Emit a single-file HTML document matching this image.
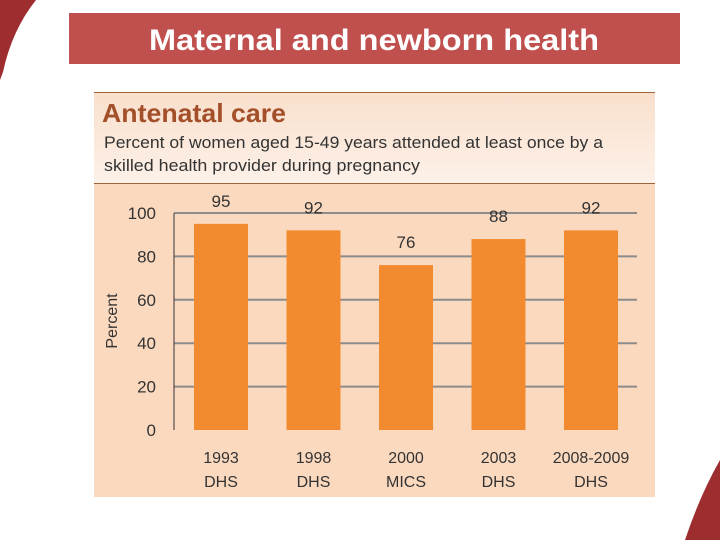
<!DOCTYPE html>
<html><head><meta charset="utf-8"><style>
body{margin:0;width:720px;height:540px;overflow:hidden;background:#fff;font-family:"Liberation Sans",sans-serif}
</style></head><body>
<svg width="720" height="540" viewBox="0 0 720 540" xmlns="http://www.w3.org/2000/svg" style="position:absolute;left:0;top:0;font-family:'Liberation Sans',sans-serif">
<defs><linearGradient id="hg" x1="0" y1="0" x2="0" y2="1"><stop offset="0" stop-color="#f9dfcc"/><stop offset="1" stop-color="#fdf1e8"/></linearGradient></defs>
<path d="M0,0 L36,0 Q12,30 3,72 L0,80 Z" fill="#9e2d30"/>
<path d="M720,460 Q700,495 685,540 L720,540 Z" fill="#9e2d30"/>
<rect x="69" y="13" width="611" height="51" fill="#c0504d"/>
<text x="374" y="50" text-anchor="middle" font-size="30" font-weight="bold" textLength="450" lengthAdjust="spacingAndGlyphs" fill="#fff">Maternal and newborn health</text>
<rect x="94" y="92" width="561" height="405" fill="#fbd9bf"/>
<rect x="94" y="92" width="561" height="91" fill="url(#hg)"/>
<line x1="94" y1="92.5" x2="655" y2="92.5" stroke="#a0643c" stroke-width="1"/>
<line x1="94" y1="183.5" x2="655" y2="183.5" stroke="#a0643c" stroke-width="1"/>
<text x="102" y="122" font-size="26" fill="#a3502a" font-weight="bold" textLength="184" lengthAdjust="spacingAndGlyphs">Antenatal care</text>
<text font-size="16.5" fill="#333"><tspan x="104" y="148" textLength="499" lengthAdjust="spacingAndGlyphs">Percent of women aged 15-49 years attended at least once by a</tspan><tspan x="104" y="171" textLength="316" lengthAdjust="spacingAndGlyphs">skilled health provider during pregnancy</tspan></text>
<text transform="translate(117,321) rotate(-90)" text-anchor="middle" font-size="16" fill="#333">Percent</text>
<g id="chart"></g>
</svg>
<script>
const categories=["1993","1998","2000","2003","2008-2009"];
const surveys=["DHS","DHS","MICS","DHS","DHS"];
const values=[95,92,76,88,92];
const yTicks=[0,20,40,60,80,100];
const NS="http://www.w3.org/2000/svg";
const g=document.getElementById('chart');
const x0=174,x1=637,yB=430,yT=213;
const y=v=>yB-(v/100)*(yB-yT);
const step=92.5;
const cx=i=>x0+47+step*i;
function el(t,a){const e=document.createElementNS(NS,t);for(const k in a)e.setAttribute(k,a[k]);g.appendChild(e);return e;}
yTicks.forEach(v=>{
 if(v>0){const l=el('line',{x1:x0,x2:x1,y1:y(v),y2:y(v),stroke:'#8c8c8c','stroke-width':2});
 
 }
 const t=el('text',{x:156,y:y(v)+6,'text-anchor':'end','font-size':17,fill:'#333'});t.textContent=v;
 
 
});
const ax=el('line',{x1:x0,x2:x0,y1:yT,y2:yB,stroke:'#333','stroke-width':1});


const bw=54;
values.forEach((v,i)=>{
 const r=el('rect',{x:cx(i)-bw/2,y:y(v),width:bw,height:yB-y(v),fill:'#f28a30'});
 
 
 const t=el('text',{x:cx(i),y:y(v)-17,'text-anchor':'middle','font-size':17,fill:'#333'});t.textContent=v;
 
 
 const c=el('text',{x:cx(i),y:463,'text-anchor':'middle','font-size':16,fill:'#333'});c.textContent=categories[i];
 
 
 const s=el('text',{x:cx(i),y:487,'text-anchor':'middle','font-size':16,fill:'#333'});s.textContent=surveys[i];
 
 
});
</script>
</body></html>
